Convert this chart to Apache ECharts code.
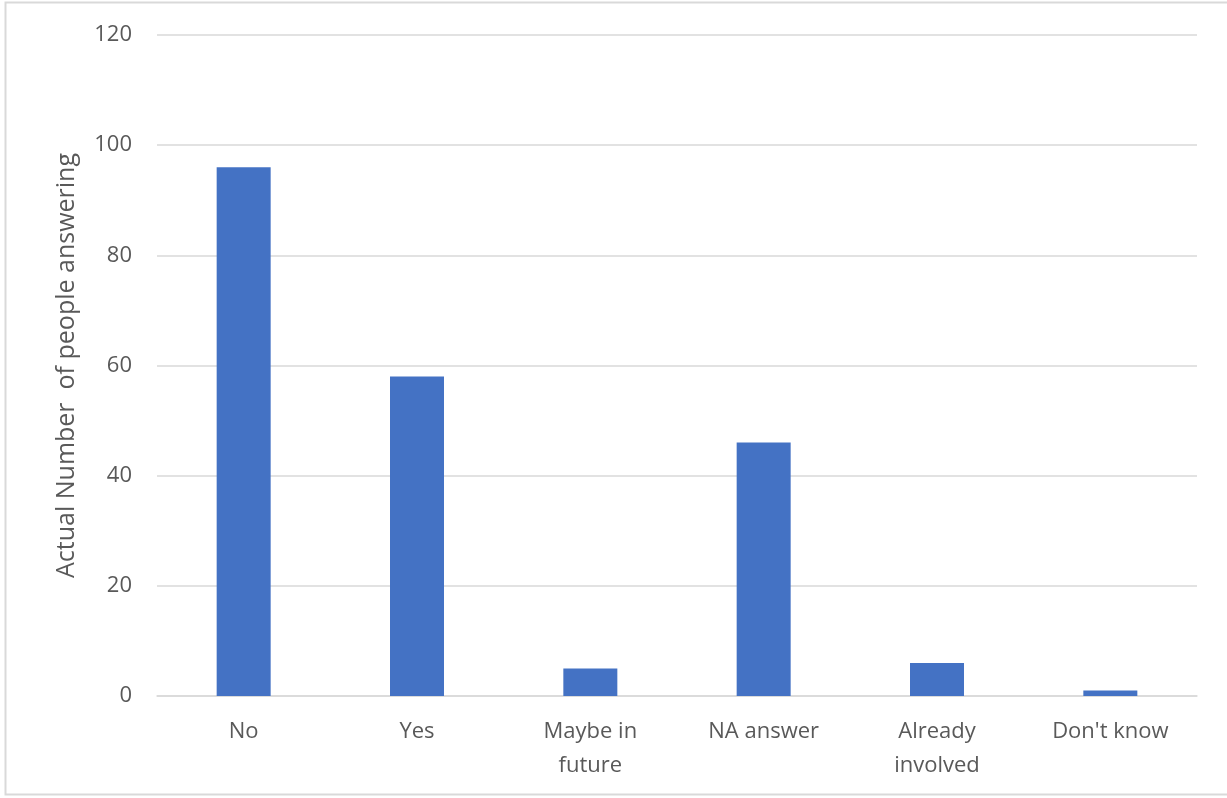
<!DOCTYPE html>
<html>
<head>
<meta charset="utf-8">
<script src="https://cdn.jsdelivr.net/npm/echarts@6/dist/echarts.min.js"></script>
<style>
  html, body { margin: 0; padding: 0; background: #ffffff; }
  #chart { width: 1227px; height: 798px; }
</style>
</head>
<body>
<div id="chart"></div>
<script>
// Survey responses
const categories = ['No', 'Yes', 'Maybe in\nfuture', 'NA answer', 'Already\ninvolved', "Don't know"];
const counts = [96, 58, 5, 46, 6, 1];
const yAxisTitle = 'Actual Number  of people answering';

const textColor = '#595959';
const fontFamily = '"Open Sans", "Liberation Sans", sans-serif';

const chart = echarts.init(document.getElementById('chart'), null, { renderer: 'canvas' });
chart.setOption({
  backgroundColor: '#ffffff',
  animation: false,
  graphic: [{
    type: 'rect',
    shape: { x: 5.5, y: 2.5, width: 1240, height: 792 },
    style: { fill: 'none', stroke: '#d9d9d9', lineWidth: 2 },
    silent: true
  }],
  grid: { left: 157, right: 30, top: 35, bottom: 102 },
  xAxis: {
    type: 'category',
    data: categories,
    axisLine: { show: true, lineStyle: { color: '#d9d9d9', width: 1.5 } },
    axisTick: { show: false },
    axisLabel: {
      color: textColor, fontFamily: fontFamily, fontSize: 22,
      margin: 19, lineHeight: 34, interval: 0
    }
  },
  yAxis: {
    type: 'value',
    min: 0, max: 120, interval: 20,
    name: yAxisTitle,
    nameLocation: 'middle',
    nameGap: 78,
    nameTextStyle: { color: textColor, fontFamily: fontFamily, fontSize: 25 },
    axisLine: { show: false },
    axisTick: { show: false },
    axisLabel: { color: textColor, fontFamily: fontFamily, fontSize: 22, margin: 25 },
    splitLine: { lineStyle: { color: '#d9d9d9', width: 1.5 } }
  },
  series: [{
    type: 'bar',
    data: counts,
    barWidth: 54,
    itemStyle: { color: '#4472c4' }
  }]
});
</script>
</body>
</html>
